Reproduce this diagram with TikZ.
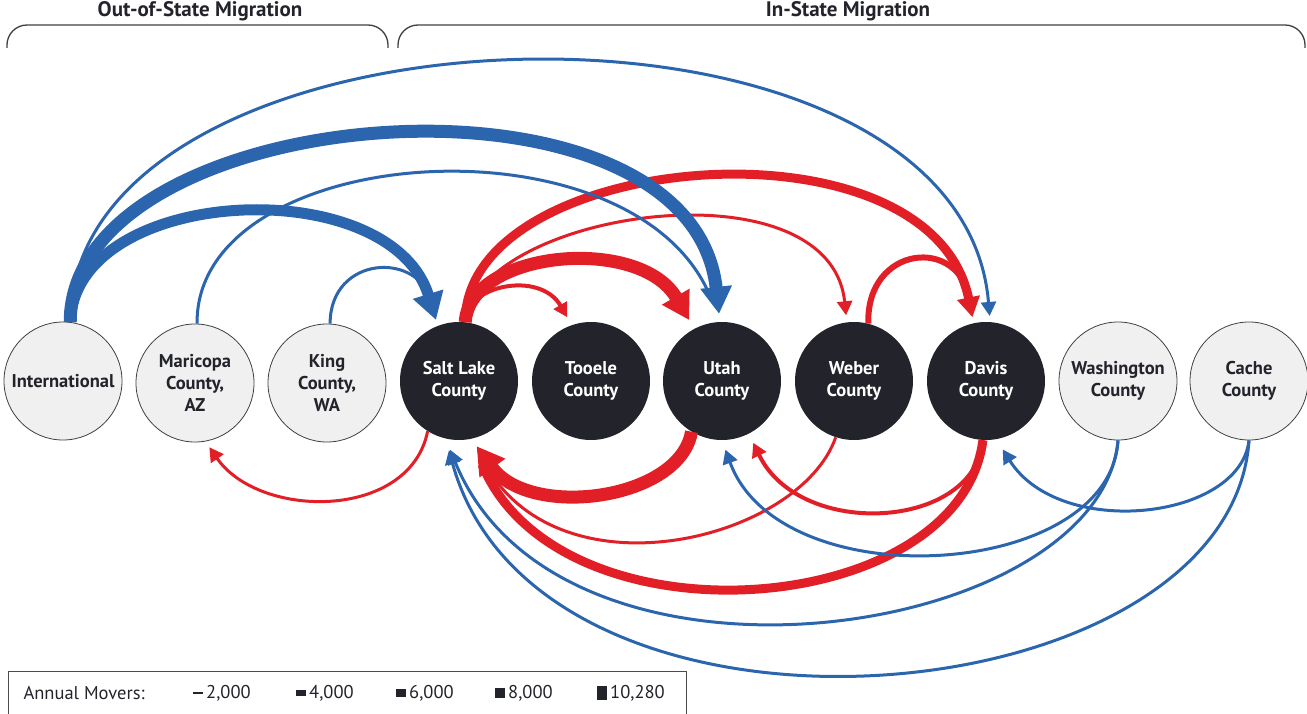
\documentclass[tikz,border=0pt]{standalone}
\usepackage{fontspec}
\setmainfont{PT Sans}
\usetikzlibrary{arrows.meta}
\definecolor{flowblue}{RGB}{43,101,173}
\definecolor{flowred}{RGB}{226,30,38}
\definecolor{countydark}{RGB}{35,36,43}
\definecolor{countylight}{RGB}{240,240,240}

\begin{document}
\begin{tikzpicture}[x=1pt,y=-1pt,
	county/.style={circle,minimum size=118pt,inner sep=0pt,align=center,font=\bfseries\fontsize{18.5}{22}\selectfont},
	instate/.style={county,fill=countydark,text=white},
	outstate/.style={county,fill=countylight,draw=black!75,line width=0.8pt,text=countydark},
	inflow/.style={flowblue,line width=#1},
	outflow/.style={flowred,line width=#1},
	tipS/.style={-{Triangle[length=14pt,width=15pt]}},
	tipM/.style={-{Triangle[length=20pt,width=22pt]}},
	tipL/.style={-{Triangle[length=27pt,width=30pt]}},
	bracket/.style={draw=black!75,line width=1.3pt,rounded corners=20pt},
	heading/.style={font=\bfseries\fontsize{21}{24}\selectfont,text=countydark},
	legendtext/.style={font=\fontsize{18.5}{20}\selectfont,text=countydark}]
	\useasboundingbox (0,0) rectangle (1307,714);

	% Group brackets
	\draw[bracket] (7,48) -- (7,25) -- (388,25) -- (388,48);
	\draw[bracket] (398,48) -- (398,25) -- (1305,25) -- (1305,48);
	\node[heading] (outtitle) at (200,11) {Out-of-State Migration};
	\node[heading] (intitle) at (848,11) {In-State Migration};

	% Counties
	\node[outstate] (int) at (63,381) {International};
	\node[outstate] (mar) at (195,383) {Maricopa\\County,\\AZ};
	\node[outstate] (king) at (327,383) {King\\County,\\WA};
	\node[instate] (sl) at (459,381) {Salt Lake\\County};
	\node[instate] (too) at (591,381) {Tooele\\County};
	\node[instate] (uta) at (722,381) {Utah\\County};
	\node[instate] (web) at (854,381) {Weber\\County};
	\node[instate] (dav) at (986,381) {Davis\\County};
	\node[outstate] (was) at (1118,381) {Washington\\County};
	\node[outstate] (cac) at (1249,381) {Cache\\County};

	% Red flows above
	\draw[outflow=4pt,tipS,shorten >=9pt] (sl.84) .. controls (465,285) and (540,270) .. (too.109);
	\draw[outflow=3pt,tipS,shorten >=7pt] (sl.84) .. controls (480,210) and (830,160) .. (web.97);
	\draw[outflow=6pt,shorten >=22pt] (web.76) .. controls (866,245) and (960,235) .. (dav.102);
	\draw[outflow=9pt,tipM,shorten >=6pt] (sl.84) .. controls (465,150) and (930,110) .. (dav.102);
	\draw[outflow=13pt,tipL,shorten >=10pt] (sl.84) .. controls (470,250) and (640,235) .. (uta.118);

	% Red flows below
	\draw[outflow=3pt,tipS,shorten >=7pt] (sl.238) .. controls (410,520) and (260,520) .. (mar.280);
	\draw[outflow=4pt,tipS,shorten >=10pt] (dav.267) .. controls (975,530) and (800,540) .. (uta.297);
	\draw[outflow=3pt,shorten >=28pt] (web.252) .. controls (800,540) and (560,600) .. (sl.282);
	\draw[outflow=9pt,shorten >=28pt] (dav.267) .. controls (960,620) and (560,650) .. (sl.282);
	\draw[outflow=13pt,tipL,shorten >=9pt] (uta.239) .. controls (680,500) and (530,520) .. (sl.282);

	% Blue flows above
	\draw[inflow=3pt,tipS,shorten >=6pt] (int.83) .. controls (70,-10) and (960,-40) .. (dav.86);
	\draw[inflow=3pt,shorten >=22pt] (mar.88) .. controls (195,140) and (640,110) .. (uta.92);
	\draw[inflow=3pt,shorten >=22pt] (king.87) .. controls (330,255) and (420,250) .. (sl.111);
	\draw[inflow=13pt,tipL,shorten >=8pt] (int.83) .. controls (70,100) and (690,50) .. (uta.92);
	\draw[inflow=11pt,tipL,shorten >=6pt] (int.83) .. controls (75,185) and (390,170) .. (sl.111);

	% Blue flows below
	\draw[inflow=3pt,tipS,shorten >=10pt] (was.270) .. controls (1110,580) and (780,600) .. (uta.270);
	\draw[inflow=3pt,tipS,shorten >=12pt] (was.270) .. controls (1100,640) and (560,720) .. (sl.257);
	\draw[inflow=3pt,tipS,shorten >=12pt] (cac.270) .. controls (1230,720) and (540,780) .. (sl.257);
	\draw[inflow=3pt,tipS,shorten >=12pt] (cac.270) .. controls (1240,520) and (1060,540) .. (dav.280);

	% Legend
	\draw[black!70,line width=1pt] (8,671) rectangle (686,730);
	\node[anchor=west,legendtext] (movers) at (20,693) {Annual Movers:};
	\foreach \x/\h/\lab in {193/2.7/{2,000},296/5.4/{4,000},396/8.2/{6,000},495/10.9/{8,000},597/14/{10,280}}{
		\fill[countydark] (\x,693-\h/2) rectangle (\x+10,693+\h/2);
		\node[anchor=west,legendtext,inner sep=1pt] at (\x+12,693) {\lab};
	}
\end{tikzpicture}
\end{document}
